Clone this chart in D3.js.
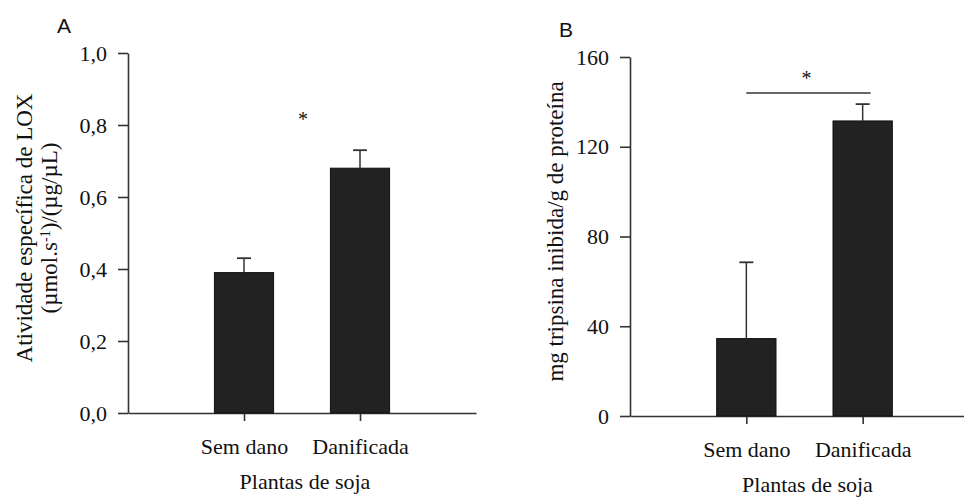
<!DOCTYPE html>
<html lang="pt">
<head>
<meta charset="UTF-8">
<title>LOX e inibidores de tripsina</title>
<script src="https://d3js.org/d3.v7.min.js"></script>
<style>
  body { margin: 0; background: #fff; }
  svg text { font-family: "Liberation Serif", "Times New Roman", serif; fill: #111; }
  .panel-title { font-family: "Liberation Sans", Arial, sans-serif !important; font-size: 21px; }
  .axis path, .axis line { stroke: #333; stroke-width: 1.6px; }
  .axis text { font-size: 22px; }
</style>
</head>
<body>
<svg width="964" height="498"></svg>
<script>
// data
var categories = ["Sem dano", "Danificada"];

var loxMeans = [0.39, 0.68];
var loxErrors = [0.04, 0.05];
var loxTicks = [0, 0.2, 0.4, 0.6, 0.8, 1.0];

var trypsinMeans = [34.5, 131.5];
var trypsinErrors = [34, 7.5];
var trypsinTicks = [0, 40, 80, 120, 160];

var svg = d3.select("svg");

function drawPanel(cfg) {
    var g = svg.append("g");

    // category i sits at position i + 1 on a [0, 3] axis
    var x = d3.scaleLinear().domain([0, 3]).range([cfg.left, cfg.right]);
    var y = d3.scaleLinear().domain(cfg.domain).range([cfg.bottom, cfg.top]);
    var step = x(1) - x(0);
    var barW = step * 0.51;

    // y axis
    var yAxis = g.append("g")
        .attr("class", "axis")
        .attr("transform", "translate(" + cfg.left + ",0)")
        .call(d3.axisLeft(y).tickValues(cfg.ticks).tickSize(10).tickSizeOuter(0)
            .tickPadding(11).tickFormat(cfg.format));

    // x axis: a line with ticks under each bar
    var xAxis = g.append("g")
        .attr("class", "axis")
        .attr("transform", "translate(0," + cfg.bottom + ")")
        .call(d3.axisBottom(x).tickValues([1, 2]).tickSize(8).tickSizeOuter(0)
            .tickPadding(17).tickFormat(function(d) { return categories[d - 1]; }));

    // bars
    g.selectAll(".bar")
        .data(cfg.means)
        .enter().append("rect")
        .attr("class", "bar")
        .attr("x", function(d, i) { return x(i + 1) - barW / 2; })
        .attr("y", function(d) { return y(d); })
        .attr("width", barW)
        .attr("height", function(d) { return y(0) - y(d); })
        .attr("fill", "#222")
        .attr("stroke", "#111")
        .attr("stroke-width", 1);

    // error bars (upper only)
    cfg.means.forEach(function(m, i) {
        var cx = x(i + 1), top = y(m + cfg.errors[i]);
        g.append("line")
            .attr("x1", cx).attr("x2", cx)
            .attr("y1", y(m)).attr("y2", top)
            .attr("stroke", "#333").attr("stroke-width", 1.5);
        g.append("line")
            .attr("x1", cx - 7).attr("x2", cx + 7)
            .attr("y1", top).attr("y2", top)
            .attr("stroke", "#333").attr("stroke-width", 1.8);
    });

    // panel letter
    g.append("text")
        .attr("class", "panel-title")
        .attr("x", cfg.left - 71)
        .attr("y", cfg.top - 20)
        .text(cfg.letter);

    // y label (one or two lines)
    var midY = (cfg.top + cfg.bottom) / 2 - 5;
    cfg.yLabel.forEach(function(lines, k) {
        var t = g.append("text")
            .attr("transform", "translate(" + cfg.yLabelX[k] + "," + midY + ") rotate(-90)")
            .attr("text-anchor", "middle")
            .style("font-size", "23px");
        lines.forEach(function(part) {
            var ts = t.append("tspan").text(part.t);
            if (part.sup) ts.attr("baseline-shift", "super").style("font-size", "14px");
        });
    });

    // x label
    g.append("text")
        .attr("x", (x(1) + x(2)) / 2 + 3)
        .attr("y", cfg.bottom + 76)
        .attr("text-anchor", "middle")
        .style("font-size", "22px")
        .text("Plantas de soja");

    return { g: g, x: x, y: y };
}

var a = drawPanel({
    letter: "A",
    left: 128, right: 476, top: 53, bottom: 413,
    domain: [0, 1],
    means: loxMeans, errors: loxErrors, ticks: loxTicks,
    format: function(d) { return d3.format(".1f")(d).replace(".", ","); },
    yLabelX: [32, 57],
    yLabel: [
        [{ t: "Atividade específica de LOX" }],
        [{ t: "(µmol.s" }, { t: "-1", sup: true }, { t: ")/(µg/µL)" }]
    ]
});

// significance mark for panel A
a.g.append("text")
    .attr("x", (a.x(1) + a.x(2)) / 2 + 1)
    .attr("y", 126)
    .attr("text-anchor", "middle")
    .style("font-size", "20px")
    .text("*");

var b = drawPanel({
    letter: "B",
    left: 630, right: 979, top: 57, bottom: 416,
    domain: [0, 160],
    means: trypsinMeans, errors: trypsinErrors, ticks: trypsinTicks,
    format: d3.format("d"),
    yLabelX: [563],
    yLabel: [
        [{ t: "mg tripsina inibida/g de proteína" }]
    ]
});

// significance bracket for panel B
b.g.append("line")
    .attr("x1", b.x(1)).attr("x2", b.x(2) + 8)
    .attr("y1", 93).attr("y2", 93)
    .attr("stroke", "#333").attr("stroke-width", 1.4);
b.g.append("text")
    .attr("x", (b.x(1) + b.x(2)) / 2 + 2)
    .attr("y", 85)
    .attr("text-anchor", "middle")
    .style("font-size", "20px")
    .text("*");
</script>
</body>
</html>
